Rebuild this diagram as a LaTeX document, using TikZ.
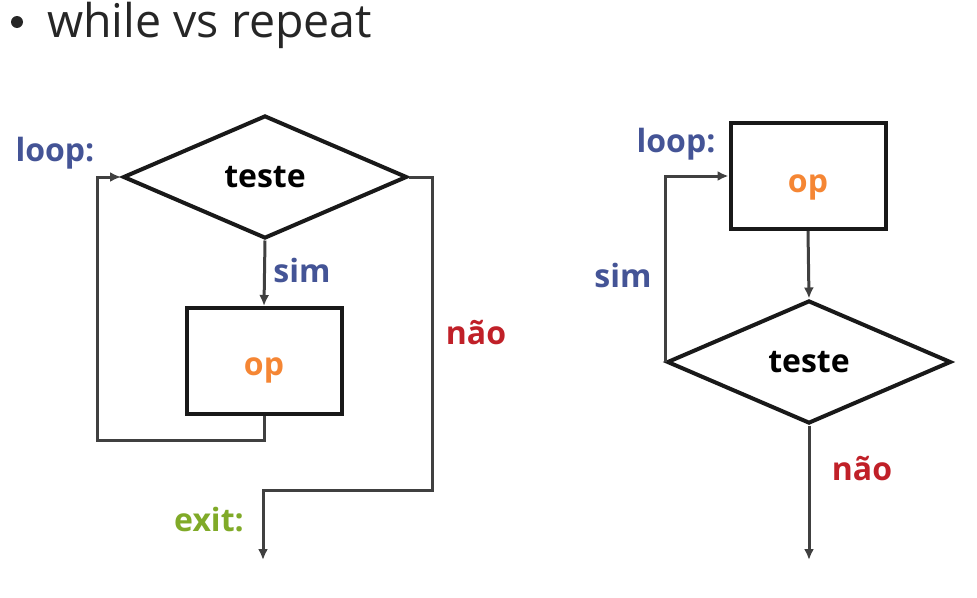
\documentclass[tikz,border=0pt]{standalone}
\usepackage{fontspec}
\setmainfont{Open Sans}
\usetikzlibrary{shapes.geometric,arrows.meta}
\definecolor{lblue}{RGB}{68,84,150}
\definecolor{lred}{RGB}{192,32,40}
\definecolor{lorange}{RGB}{245,134,52}
\definecolor{lgreen}{RGB}{128,170,40}
\definecolor{lgray}{RGB}{64,64,64}
\definecolor{ltext}{RGB}{38,38,38}
\begin{document}
\begin{tikzpicture}[x=1pt,y=-1pt]
		\tikzset{decision/.style = {shape=diamond,draw=black!90,line width=4pt,inner sep=0pt,minimum width=284pt,minimum height=123pt,font=\fontsize{32}{36}\selectfont\bfseries}}
		\tikzset{process/.style = {shape=rectangle,draw=black!90,line width=4pt,minimum width=155pt,minimum height=106pt,font=\fontsize{32}{36}\selectfont\bfseries,text=lorange}}
		\tikzset{flow/.style = {draw=lgray,line width=3pt,-{Latex[length=11pt,width=10pt]}}}
		\tikzset{lbl/.style = {inner sep=0pt,font=\fontsize{32}{36}\selectfont\bfseries}}
		\useasboundingbox (0,0) rectangle (977,597);
		% titulo
		\node[circle,fill=ltext,inner sep=0pt,minimum size=12pt] (bul) at (17,22) {};
		\node[inner sep=0pt,anchor=base west,text=ltext,font=\fontsize{46.5}{50}\selectfont] (tit) at (47,37) {while vs repeat};
		% while
		\node[decision] (wt) at (265,177) {teste};
		\node[process] (wop) at (264,361) {\raisebox{-14pt}[0pt][0pt]{op}};
		\coordinate (wback) at (97,440);
		\coordinate (wnao) at (432,490);
		\coordinate (wexit) at (263,560);
		\draw[flow] (wt.south) -- (wop.north);
		\draw[flow] (wop.south) |- (wback) |- (wt.west);
		\draw[flow] (wt.east) -| (wnao) -| (wexit);
		\node[lbl,text=lblue] (wloop) at (55,153) {loop:};
		\node[lbl,text=lblue] (wsim) at (302,270) {sim};
		\node[lbl,text=lred] (wno) at (476,333) {não};
		\node[lbl,text=lgreen] (wex) at (209,520) {exit:};
		% repeat
		\node[process] (rop) at (808,176) {\raisebox{-16pt}[0pt][0pt]{op}};
		\node[decision] (rt) at (809,362) {teste};
		\coordinate (rexit) at (809,560);
		\draw[flow] (rop.south) -- (rt.north);
		\draw[flow] (rt.west) |- (rop.west);
		\draw[flow] (rt.south) -- (rexit);
		\node[lbl,text=lblue] (rloop) at (676,144) {loop:};
		\node[lbl,text=lblue] (rsim) at (623,275) {sim};
		\node[lbl,text=lred] (rno) at (862,469) {não};
	\end{tikzpicture}
\end{document}
